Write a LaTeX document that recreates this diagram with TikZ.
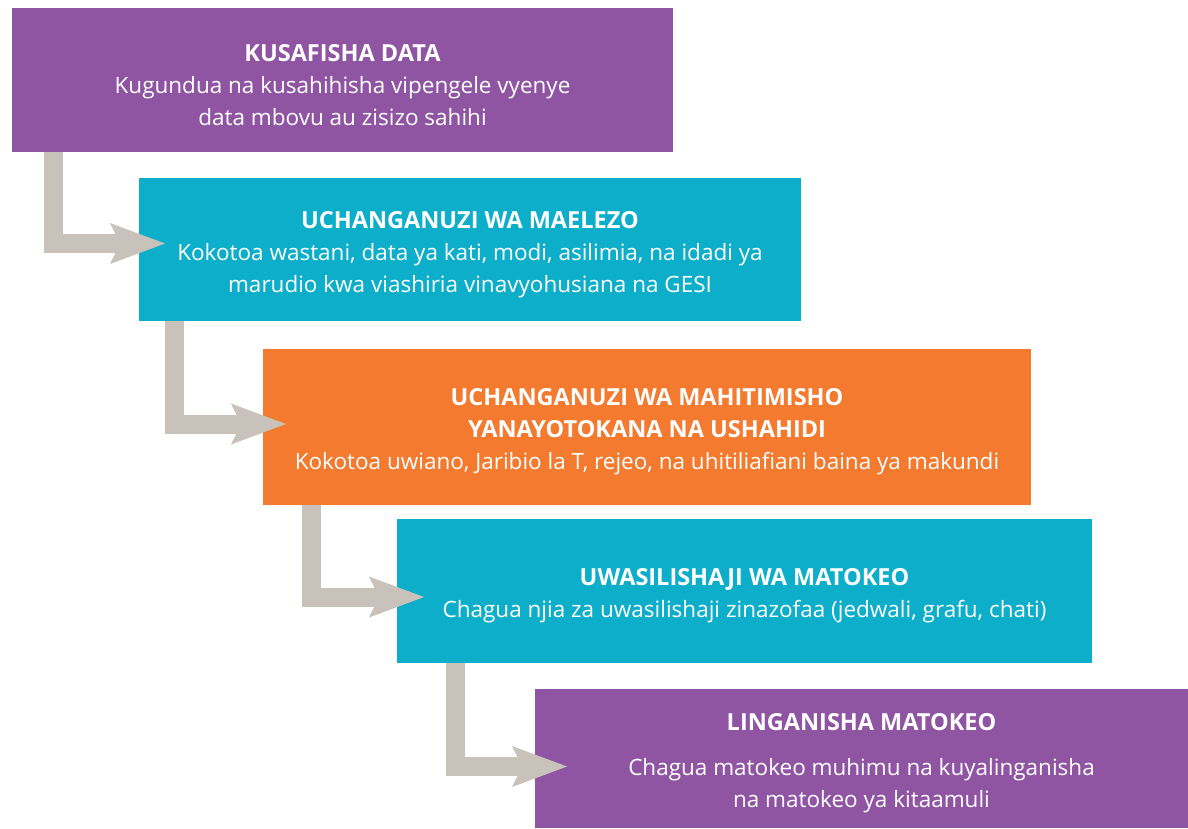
\documentclass[tikz,border=0pt]{standalone}
\usepackage{fontspec}
\setmainfont{Open Sans}
\usepackage{tikz}
\usetikzlibrary{positioning, arrows.meta}
\newcommand{\boxtitle}[1]{{\fontsize{23.5}{32}\selectfont\bfseries\rule{0pt}{27pt}#1}}

\begin{document}
\begin{tikzpicture}[x=1pt, y=-1pt, font=\fontsize{22.5}{32}\selectfont, align=center, >={Stealth[length=55pt, width=41pt, inset=10pt, line width=0pt]}]
        % Define colors
        \definecolor{boxpurple}{RGB}{143,85,162}
        \definecolor{boxcyan}{RGB}{13,174,201}
        \definecolor{boxorange}{RGB}{243,122,46}
        \definecolor{arrowgray}{RGB}{200,194,187}

        \useasboundingbox (0,0) rectangle (1188,828);

        % Nodes
        \node[fill=boxpurple, text=white, inner sep=0pt, outer sep=0pt, minimum width=661pt, minimum height=144pt, anchor=north west] (clean) at (12,8) {\boxtitle{KUSAFISHA DATA}\\Kugundua na kusahihisha vipengele vyenye\\data mbovu au zisizo sahihi};
        \node[fill=boxcyan, text=white, inner sep=0pt, outer sep=0pt, minimum width=662pt, minimum height=143pt, below right=26pt and 127pt of clean.south west] (describe) {\boxtitle{UCHANGANUZI WA MAELEZO}\\Kokotoa wastani, data ya kati, modi, asilimia, na idadi ya\\marudio kwa viashiria vinavyohusiana na GESI};
        \node[fill=boxorange, text=white, inner sep=0pt, outer sep=0pt, minimum width=768pt, minimum height=156pt, below right=28pt and 124pt of describe.south west] (infer) {\boxtitle{UCHANGANUZI WA MAHITIMISHO}\\\boxtitle{YANAYOTOKANA NA USHAHIDI}\\Kokotoa uwiano, Jaribio la T, rejeo, na uhitiliafiani baina ya makundi};
        \node[fill=boxcyan, text=white, inner sep=0pt, outer sep=0pt, minimum width=695pt, minimum height=144pt, below right=14pt and 134pt of infer.south west] (present) {\boxtitle{UWASILISHAJI WA MATOKEO}\\Chagua njia za uwasilishaji zinazofaa (jedwali, grafu, chati)};
        \node[fill=boxpurple, text=white, inner sep=0pt, outer sep=0pt, minimum width=653pt, minimum height=139pt, below right=26pt and 138pt of present.south west] (compare) {\boxtitle{LINGANISHA MATOKEO}\\[13pt]Chagua matokeo muhimu na kuyalinganisha\\na matokeo ya kitaamuli};

        % Edges
        \foreach \from/\to/\sx/\tx/\ty in {clean/describe/41/26/6, describe/infer/35/23/3, infer/present/48.5/27/-6, present/compare/58/32/-8} {
            \draw[->, arrowgray, line width=19pt] ([xshift=\sx pt]\from.south west) |- ([xshift=\tx pt, yshift=\ty pt]\to.west);
        }
    \end{tikzpicture}
\end{document}
